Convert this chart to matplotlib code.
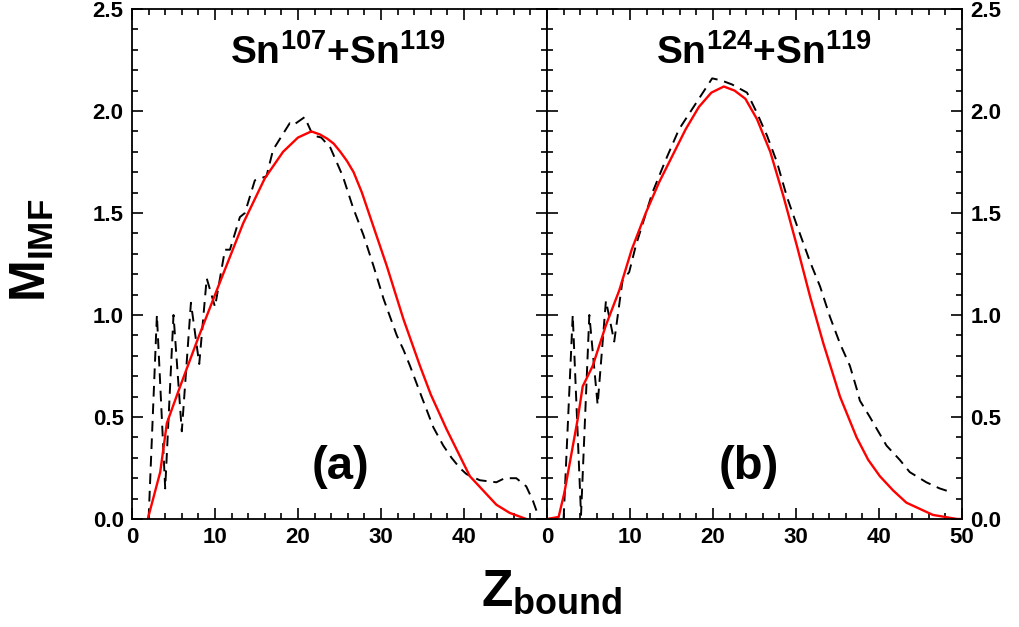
import matplotlib
matplotlib.use("Agg")
import matplotlib.pyplot as plt
from matplotlib.ticker import MultipleLocator

plt.rcParams['font.family'] = ['Liberation Sans', 'DejaVu Sans']
plt.rcParams['font.weight'] = 'bold'
plt.rcParams['mathtext.fontset'] = 'custom'
plt.rcParams['mathtext.rm'] = 'Liberation Sans:bold'
plt.rcParams['mathtext.bf'] = 'Liberation Sans:bold'
plt.rcParams['mathtext.default'] = 'bf'

# ---- data: panel (a) Sn107+Sn119 ----
a_fit_x = [1.9, 3.4, 4.2, 5.8, 8.0, 10.2, 13.4, 16.0, 18.2, 20.0, 21.6, 22.65, 23.5, 24.3,
           25.1, 25.9, 26.7, 27.7, 28.7, 30.7, 32.7, 34.7, 36.0, 37.9, 40.7, 43.9, 45.5, 47.5]
a_fit_y = [0.0, 0.23, 0.47, 0.65, 0.89, 1.12, 1.45, 1.67, 1.80, 1.87, 1.90, 1.885, 1.865, 1.84,
           1.80, 1.755, 1.70, 1.60, 1.48, 1.24, 0.98, 0.75, 0.61, 0.44, 0.21, 0.07, 0.03, 0.0]
a_dat_x = [2.0, 3.0, 4.0, 5.0, 6.0, 7.1, 8.1, 9.0, 10.0, 11.2, 11.8, 13.0, 13.6, 14.8, 16.2,
           17.0, 19.0, 19.4, 20.8, 21.8, 22.8, 23.9, 25.4, 26.6, 27.9, 29.1, 30.3, 31.9, 32.7,
           33.5, 34.7, 36.3, 37.5, 38.5, 39.5, 40.3, 41.9, 43.9, 44.9, 46.3, 47.5, 48.3, 49.0]
a_dat_y = [0.0, 1.0, 0.15, 1.0, 0.43, 1.06, 0.76, 1.18, 1.04, 1.32, 1.32, 1.48, 1.50, 1.66, 1.68,
           1.81, 1.94, 1.93, 1.97, 1.88, 1.87, 1.82, 1.68, 1.53, 1.39, 1.24, 1.08, 0.90, 0.83,
           0.75, 0.62, 0.45, 0.36, 0.30, 0.25, 0.22, 0.19, 0.18, 0.20, 0.20, 0.16, 0.09, 0.01]

# ---- data: panel (b) Sn124+Sn119 ----
b_fit_x = [0.0, 1.4, 2.1, 3.7, 4.3, 5.5, 7.1, 8.7, 10.2, 11.9, 13.5, 15.1, 16.7, 18.3, 19.8,
           21.3, 22.6, 23.9, 25.3, 26.9, 28.5, 30.1, 31.7, 33.3, 35.3, 37.3, 38.7,
           40.1, 41.7, 43.3, 46.5, 49.4, 50.0]
b_fit_y = [0.0, 0.01, 0.13, 0.49, 0.65, 0.75, 0.95, 1.12, 1.32, 1.50, 1.65, 1.78, 1.91, 2.02, 2.09,
           2.12, 2.10, 2.06, 1.96, 1.80, 1.58, 1.34, 1.09, 0.86, 0.60, 0.40, 0.29,
           0.21, 0.14, 0.08, 0.02, 0.0, 0.0]
b_dat_x = [2.0, 3.1, 4.1, 5.1, 6.1, 7.1, 8.1, 9.1, 9.9, 10.7, 12.7, 14.3, 15.9, 18.3, 19.9, 21.0,
           22.3, 24.1, 25.3, 26.5, 27.7, 28.9, 30.1, 31.7, 32.9, 34.1, 35.3, 36.5, 37.3, 37.7,
           38.9, 40.9, 42.5, 43.7, 45.7, 47.3, 48.8]
b_dat_y = [0.0, 1.0, 0.02, 1.0, 0.56, 1.07, 0.87, 1.17, 1.21, 1.34, 1.60, 1.76, 1.91, 2.06, 2.16, 2.15,
           2.13, 2.09, 1.99, 1.88, 1.75, 1.58, 1.44, 1.26, 1.14, 0.99, 0.86, 0.75, 0.64, 0.58,
           0.50, 0.36, 0.29, 0.23, 0.18, 0.15, 0.13]

titles = [r"Sn$^{107}$+Sn$^{119}$", r"Sn$^{124}$+Sn$^{119}$"]
panel_tags = ["(a)", "(b)"]
xticks_a = [0, 10, 20, 30, 40]
xticks_b = [0, 10, 20, 30, 40, 50]
yticks = [0.0, 0.5, 1.0, 1.5, 2.0, 2.5]

fig = plt.figure(figsize=(10.19, 6.27), dpi=100)
L, B, W, H = 132/1019, 1-519/627, 415/1019, 510/627
ax1 = fig.add_axes([L, B, W, H])
ax2 = fig.add_axes([L+W, B, W, H])

for ax, fx, fy, dx, dy, t, tag, tx, xt in [
        (ax1, a_fit_x, a_fit_y, a_dat_x, a_dat_y, titles[0], panel_tags[0], (24.8, 25.1), xticks_a),
        (ax2, b_fit_x, b_fit_y, b_dat_x, b_dat_y, titles[1], panel_tags[1], (26.1, 24.3), xticks_b)]:
    ax.plot(dx, dy, color='black', lw=1.4, ls=(0, (5.5, 3.5)))
    ax.plot(fx, fy, color='red', lw=1.7)
    ax.set_xlim(0, 50)
    ax.set_ylim(0, 2.5)
    ax.xaxis.set_minor_locator(MultipleLocator(2))
    ax.yaxis.set_minor_locator(MultipleLocator(0.1))
    ax.set_xticks(xt)
    ax.set_xticklabels([str(v) for v in xt], fontsize=16, fontweight='bold')
    ax.set_yticks(yticks)
    ax.tick_params(which='both', direction='in', top=True, right=True, width=1.2,
                   labelsize=16, pad=6)
    ax.tick_params(which='major', length=8)
    ax.tick_params(which='minor', length=4.5)
    for s in ax.spines.values():
        s.set_linewidth(1.3)
    ax.text(tx[0], 2.23, t, ha='center', va='baseline', fontsize=28, fontweight='bold')
    ax.text(tx[1], 0.255, tag, ha='center', va='center', fontsize=34, fontweight='bold')

ax1.set_yticklabels([f"{v:.1f}" for v in yticks])
ax2.tick_params(labelleft=False, labelright=True)
ax2.set_yticklabels([f"{v:.1f}" for v in yticks])

fig.text(46/1019, 1-250/627, r"M$_{\mathbf{IMF}}$", rotation=90, rotation_mode='anchor',
         ha='center', va='baseline', fontsize=36, fontweight='bold')
fig.text(552/1019, 1-606/627, r"Z$_{\mathbf{bound}}$", ha='center', va='baseline',
         fontsize=37, fontweight='bold')

fig.savefig("out.png", dpi=100)
